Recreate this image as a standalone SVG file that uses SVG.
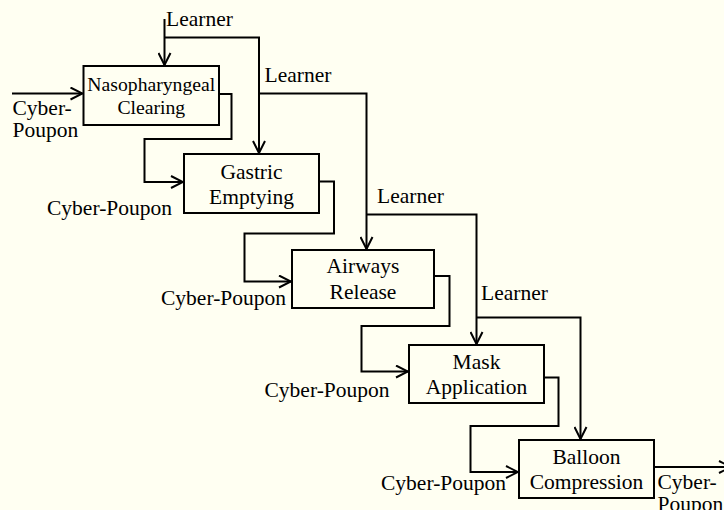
<svg xmlns="http://www.w3.org/2000/svg" width="724" height="510" viewBox="0 0 724 510">
<defs>
<marker id="arr" viewBox="0 0 14 14" refX="13" refY="7" markerWidth="14" markerHeight="14" markerUnits="userSpaceOnUse" orient="auto">
<path d="M1,1 L13,7 L1,13" fill="none" stroke="#000" stroke-width="2"/>
</marker>
<style>
.box{fill:none;stroke:#000;stroke-width:2}
.ln{fill:none;stroke:#000;stroke-width:2}
text{font-family:'Liberation Serif','Times New Roman',serif;font-size:21.5px;fill:#000}
.c{text-anchor:middle}
.e{text-anchor:end}
.s{font-size:19.7px}
</style>
</defs>
<rect width="724" height="510" fill="#FFFFF2"/>
<g id="connectors">
<path class="ln" d="M164.5,19 V65" marker-end="url(#arr)"/>
<path class="ln" d="M164.5,37.5 H259 V153" marker-end="url(#arr)"/>
<path class="ln" d="M259,93.5 H366.5 V249" marker-end="url(#arr)"/>
<path class="ln" d="M366.5,214.5 H476.5 V344" marker-end="url(#arr)"/>
<path class="ln" d="M476.5,317.5 H580.5 V439" marker-end="url(#arr)"/>
<path class="ln" d="M12,93.5 H82.5" marker-end="url(#arr)"/>
<path class="ln" d="M219,94 H231.5 V139 H144.5 V182 H183" marker-end="url(#arr)"/>
<path class="ln" d="M319,181.5 H334 V233.5 H244.5 V281.5 H291" marker-end="url(#arr)"/>
<path class="ln" d="M434,276 H449.5 V326 H361.5 V371.5 H408" marker-end="url(#arr)"/>
<path class="ln" d="M544,377.5 H558.5 V426 H470.5 V472 H518" marker-end="url(#arr)"/>
<path class="ln" d="M654,467 H731" marker-end="url(#arr)"/>
</g>
<g id="labels">
<text x="166" y="26">Learner</text>
<text x="264.5" y="81.5">Learner</text>
<text x="377" y="202.5">Learner</text>
<text x="481" y="300">Learner</text>
<text x="12.5" y="114.5">Cyber-</text>
<text x="12.5" y="136.5">Poupon</text>
<text class="e" x="172" y="215">Cyber-Poupon</text>
<text class="e" x="286" y="305">Cyber-Poupon</text>
<text class="e" x="389.5" y="396.5">Cyber-Poupon</text>
<text class="e" x="506" y="490">Cyber-Poupon</text>
<text x="657.5" y="488.5">Cyber-</text>
<text x="657.5" y="510.5">Poupon</text>
</g>
<g id="node1">
<rect class="box" x="83.5" y="66" width="135.5" height="59"/>
<text class="c s" x="151.3" y="90.7">Nasopharyngeal</text>
<text class="c s" x="151.3" y="114.3">Clearing</text>
</g>
<g id="node2">
<rect class="box" x="184" y="154" width="135" height="59"/>
<text class="c" x="251.5" y="179.3">Gastric</text>
<text class="c" x="251.5" y="204.3">Emptying</text>
</g>
<g id="node3">
<rect class="box" x="292" y="250" width="142" height="58"/>
<text class="c" x="363" y="273.3">Airways</text>
<text class="c" x="363" y="299">Release</text>
</g>
<g id="node4">
<rect class="box" x="409" y="345" width="135" height="58"/>
<text class="c" x="476.5" y="369">Mask</text>
<text class="c" x="476.5" y="394.3">Application</text>
</g>
<g id="node5">
<rect class="box" x="519" y="440" width="135" height="58"/>
<text class="c" x="586.5" y="464.3">Balloon</text>
<text class="c" x="586.5" y="489.3">Compression</text>
</g>
</svg>
